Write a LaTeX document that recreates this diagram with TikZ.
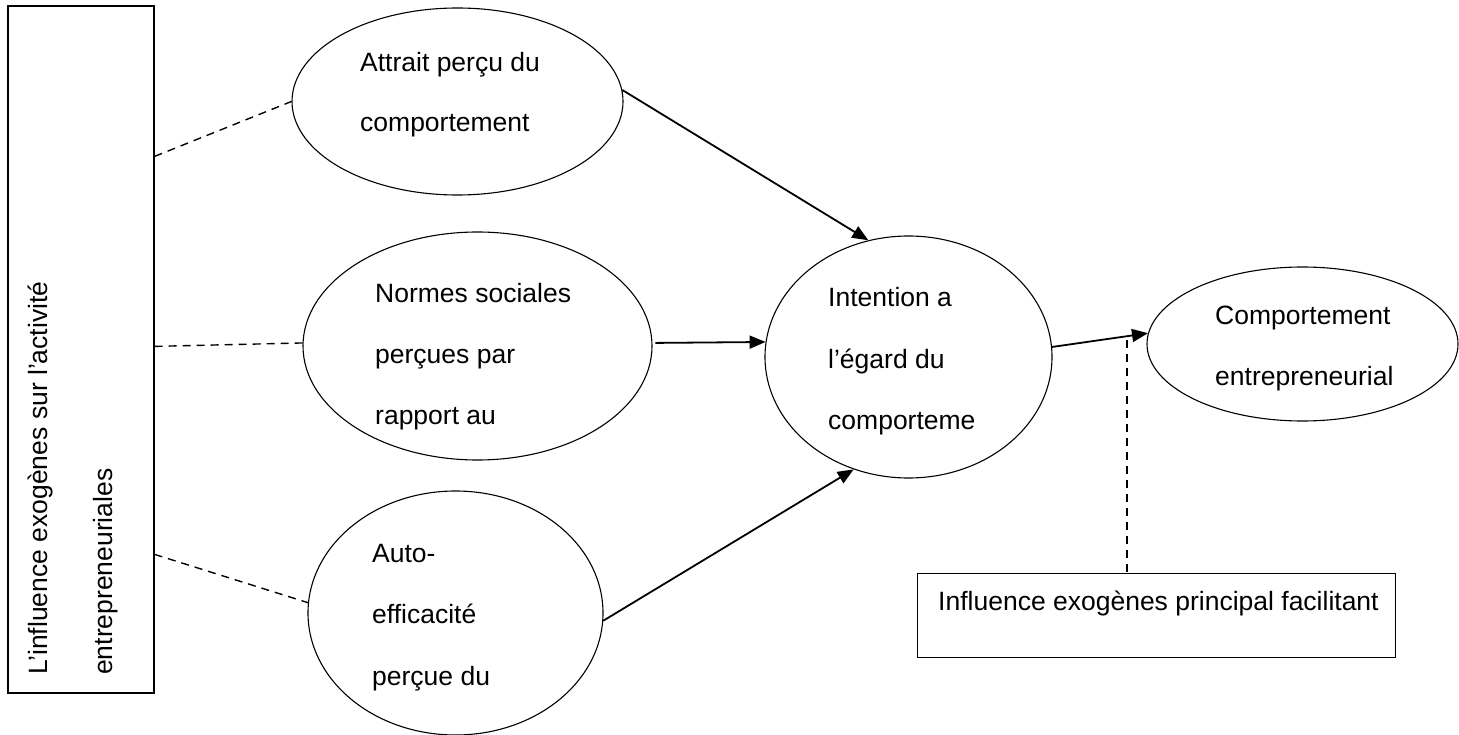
\documentclass[tikz,border=0pt]{standalone}
\usepackage{fontspec}
\setmainfont{Liberation Sans}
\usetikzlibrary{arrows.meta,shapes.geometric,calc}
\begin{document}
\begin{tikzpicture}[x=1pt,y=-1pt,
  font=\fontsize{26.5}{32}\selectfont,
  bubble/.style={draw, ellipse, line width=1.1pt, inner sep=0pt},
  frame/.style={draw, rectangle, line width=1.2pt, inner sep=0pt},
  txt/.style={anchor=base west, inner sep=0pt},
  link/.style={line width=1.8pt, -{Triangle[length=16pt,width=13pt]}},
  tie/.style={line width=1.4pt, dash pattern=on 8pt off 6pt},
]
\useasboundingbox (0,0) rectangle (1459,735);

% outer frames
\node[frame, minimum width=146pt, minimum height=687pt] (lbox) at (81,349.5) {};
\node[frame, minimum width=478pt, minimum height=84pt, anchor=north west] (fbox) at (917,573) {};

% determinants, intention and behaviour
\node[bubble, minimum width=331pt, minimum height=187pt] (att) at (457.5,101.5) {};
\node[bubble, minimum width=349pt, minimum height=228pt] (nor) at (477.5,346) {};
\node[bubble, minimum width=295pt, minimum height=244pt] (aut) at (455.5,613) {};
\node[bubble, minimum width=287pt, minimum height=242pt] (int) at (908.5,357) {};
\node[bubble, minimum width=311pt, minimum height=154pt] (cmp) at (1302.5,344) {};

% texts
\node[txt, rotate=90] (l1) at (47,675) {L’influence exogènes sur l’activité};
\node[txt, rotate=90] (l2) at (112,675) {entrepreneuriales};

\node[txt] (a1) at (360,72) {Attrait perçu du};
\node[txt] (a2) at (360,132) {comportement};

\node[txt] (n1) at (375,302) {Normes sociales};
\node[txt] (n2) at (375,363) {perçues par};
\node[txt] (n3) at (375,424) {rapport au};

\node[txt] (s1) at (372,562) {Auto-};
\node[txt] (s2) at (372,623) {efficacité};
\node[txt] (s3) at (372,685) {perçue du};

\node[txt] (i1) at (828,307) {Intention a};
\node[txt] (i2) at (828,368) {l’égard du};
\node[txt] (i3) at (828,429) {comporteme};

\node[txt] (c1) at (1215,324) {Comportement};
\node[txt] (c2) at (1215,385) {entrepreneurial};

\node[txt] (f1) at (938,610) {Influence exogènes principal facilitant};

% causal arrows
\draw[link] (att.4) -- (int.109);
\draw[link, shorten <=3pt] (nor.1) -- (int.174);
\draw[link] (aut.-3) -- (int.244);
\draw[link] (int.4) -- (cmp.176);

% dashed influence links
\coordinate (e1) at ($(lbox.north east)+(0,151)$);
\coordinate (e2) at ($(lbox.north east)+(0,341)$);
\coordinate (e3) at ($(lbox.north east)+(0,549)$);
\draw[tie] (e1) -- (att.west);
\draw[tie] (e2) -- (nor.179);
\draw[tie] (e3) -- (aut.176);
\coordinate (v1) at (1127,340);
\draw[tie] (v1) -- (v1 |- fbox.north);
\end{tikzpicture}
\end{document}
